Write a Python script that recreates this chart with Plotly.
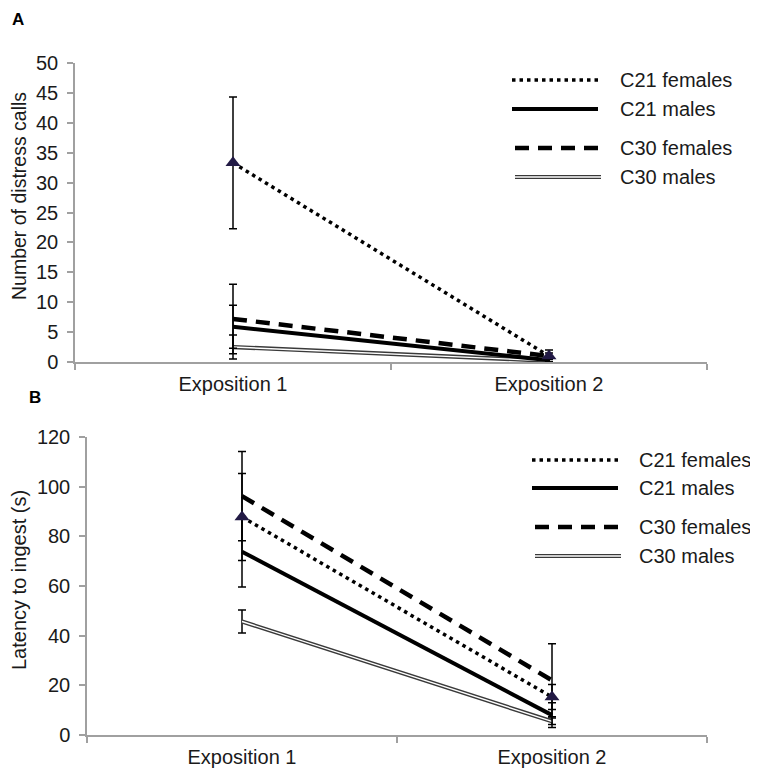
import plotly.graph_objects as go

categories = ["Exposition 1", "Exposition 2"]
series_names = ["C21 females", "C21 males", "C30 females", "C30 males"]

# Panel A: Number of distress calls
a_c21_f = [33.3, 1.0]
a_c21_f_err = [11.0, 1.0]
a_c21_m = [5.9, 0.3]
a_c21_m_err = [3.6, 0.3]
a_c30_f = [7.2, 1.0]
a_c30_f_err = [5.8, 0.5]
a_c30_m = [2.5, 0.2]
a_c30_m_err = [2.0, 0.2]

# Panel B: Latency to ingest (s)
b_c21_f = [87.8, 15.3]
b_c21_f_err = [17.5, 5.0]
b_c21_m = [73.8, 8.0]
b_c21_m_err = [14.2, 5.0]
b_c30_f = [96.2, 22.0]
b_c30_f_err = [18.0, 14.7]
b_c30_m = [45.7, 5.5]
b_c30_m_err = [4.6, 1.3]

W, H = 758, 776
OFF = 8  # page body margin
FONT = "Liberation Sans, Arial, sans-serif"
MARK = "#221a45"
TXT = "#1a1a1a"

def px(x):
    return (x - OFF) / W

def py(y):
    return 1 - (y - OFF) / H

fig = go.Figure()

def err(vals):
    return dict(type="data", array=vals, visible=True, color="black", thickness=1.5, width=4)

def add_panel(xa, ya, f, fe, m, me, f30, f30e, m30, m30e):
    # C30 males (double line)
    fig.add_trace(go.Scatter(x=categories, y=m30, mode="lines", xaxis=xa, yaxis=ya,
                             line=dict(color="#3a3a3a", width=4.2), error_y=err(m30e),
                             showlegend=False))
    fig.add_trace(go.Scatter(x=categories, y=m30, mode="lines", xaxis=xa, yaxis=ya,
                             line=dict(color="white", width=1.4), showlegend=False, hoverinfo="skip"))
    # C21 males
    fig.add_trace(go.Scatter(x=categories, y=m, mode="lines", xaxis=xa, yaxis=ya,
                             line=dict(color="black", width=4), error_y=err(me), showlegend=False))
    # C30 females
    fig.add_trace(go.Scatter(x=categories, y=f30, mode="lines", xaxis=xa, yaxis=ya,
                             line=dict(color="black", width=4.5, dash="14px,9px"),
                             error_y=err(f30e), showlegend=False))
    # C21 females
    fig.add_trace(go.Scatter(x=categories, y=f, mode="lines+markers", xaxis=xa, yaxis=ya,
                             line=dict(color="black", width=3.5, dash="3.5px,4px"),
                             marker=dict(symbol="triangle-up", size=13, color=MARK),
                             error_y=err(fe), showlegend=False))

add_panel("x", "y", a_c21_f, a_c21_f_err, a_c21_m, a_c21_m_err,
          a_c30_f, a_c30_f_err, a_c30_m, a_c30_m_err)
add_panel("x2", "y2", b_c21_f, b_c21_f_err, b_c21_m, b_c21_m_err,
          b_c30_f, b_c30_f_err, b_c30_m, b_c30_m_err)

axis_col = "#a0a0a0"
tickfont = dict(family=FONT, size=20, color=TXT)

xcommon = dict(type="category", range=[-0.5, 1.5], showline=True, linecolor=axis_col, linewidth=1.5,
               ticks="outside", tickson="boundaries", ticklen=6, tickcolor=axis_col, tickwidth=1.5,
               showgrid=False, zeroline=False, tickfont=tickfont, ticklabelstandoff=3,
               categoryorder="array", categoryarray=categories, automargin=False)
ycommon = dict(showline=True, linecolor=axis_col, linewidth=1.5, ticks="outside", ticklen=6,
               tickcolor=axis_col, tickwidth=1.5, showgrid=False, zeroline=False, tickfont=tickfont,
               ticklabelstandoff=5, automargin=False)

shapes = []
annotations = []

def legend(x0, x1, xt, ys):
    styles = ["3.5px,4px", "solid", "14px,9px", "double"]
    for name, st, y in zip(series_names, styles, ys):
        if st == "double":
            shapes.append(dict(type="line", xref="paper", yref="paper", x0=px(x0 + 3), x1=px(x1 + 3),
                               y0=py(y), y1=py(y), line=dict(color="#3a3a3a", width=4.2)))
            shapes.append(dict(type="line", xref="paper", yref="paper", x0=px(x0 + 3), x1=px(x1 + 3),
                               y0=py(y), y1=py(y), line=dict(color="white", width=1.4)))
        else:
            w = 3.5 if st.startswith("3.5") else (4 if st == "solid" else 4.5)
            xs = x0 + (3 if st.startswith("14") else 0)
            shapes.append(dict(type="line", xref="paper", yref="paper", x0=px(xs), x1=px(x1 + (2 if st.startswith("14") else 0)),
                               y0=py(y), y1=py(y), line=dict(color="black", width=w, dash=st)))
        annotations.append(dict(text=name, xref="paper", yref="paper", x=px(xt), y=py(y),
                                xanchor="left", yanchor="middle", showarrow=False,
                                font=dict(family=FONT, size=20, color=TXT)))

legend(512, 598, 618, [80, 109, 148, 177])
legend(532, 618, 637, [460, 488, 527, 556])

annotations += [
    dict(text="<b>A</b>", xref="paper", yref="paper", x=px(10), y=py(20), xanchor="left",
         yanchor="middle", showarrow=False, font=dict(family=FONT, size=17, color="black")),
    dict(text="<b>B</b>", xref="paper", yref="paper", x=px(27), y=py(397), xanchor="left",
         yanchor="middle", showarrow=False, font=dict(family=FONT, size=17, color="black")),
    dict(text="Number of distress calls", xref="paper", yref="paper", x=px(19), y=py(196),
         xanchor="center", yanchor="middle", textangle=-90, showarrow=False,
         font=dict(family=FONT, size=19.5, color=TXT)),
    dict(text="Latency to ingest (s)", xref="paper", yref="paper", x=px(19), y=py(580),
         xanchor="center", yanchor="middle", textangle=-90, showarrow=False,
         font=dict(family=FONT, size=20, color=TXT)),
]

fig.update_layout(
    width=W, height=H,
    margin=dict(l=0, r=0, t=0, b=0, pad=0, autoexpand=False),
    paper_bgcolor="white", plot_bgcolor="white",
    showlegend=False,
    xaxis=dict(domain=[px(75), px(707)], anchor="y", **xcommon),
    yaxis=dict(domain=[py(362), py(63)], anchor="x", range=[0, 50], dtick=5, **ycommon),
    xaxis2=dict(domain=[px(87), px(707)], anchor="y2", **xcommon),
    yaxis2=dict(domain=[py(735), py(437)], anchor="x2", range=[0, 120], dtick=20, **ycommon),
    shapes=shapes,
    annotations=annotations,
)

fig.write_html("out.html")
